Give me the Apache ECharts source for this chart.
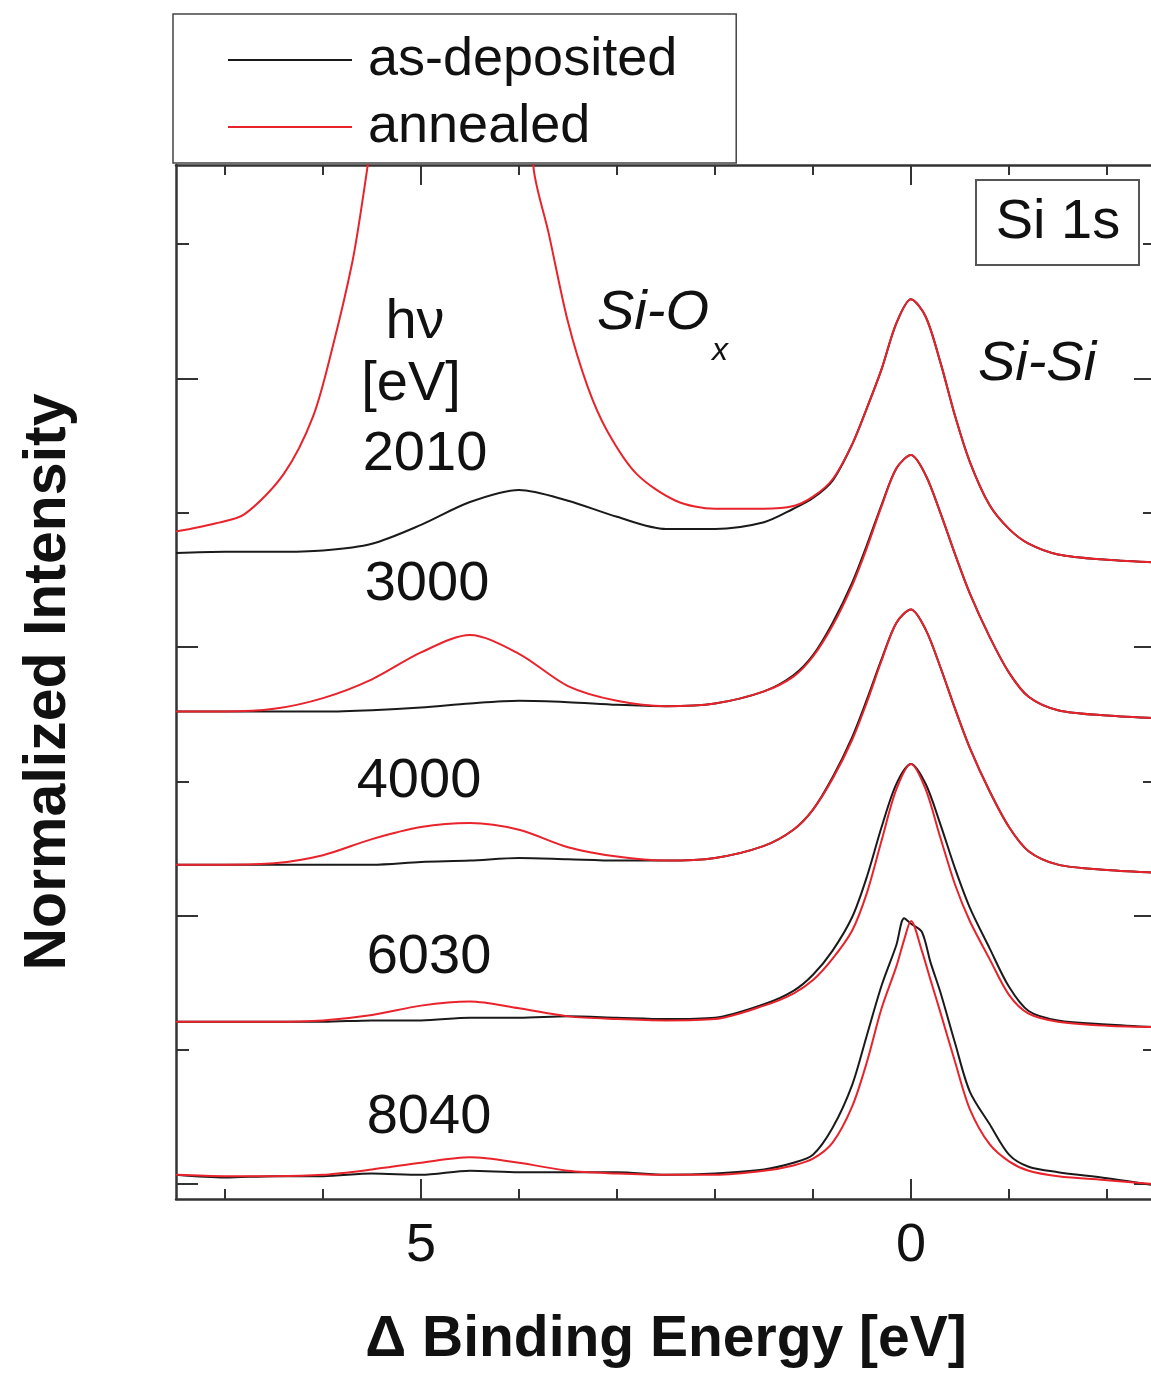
<!DOCTYPE html>
<html>
<head>
<meta charset="utf-8">
<title>Si 1s</title>
<script src="https://cdn.jsdelivr.net/npm/echarts@6/dist/echarts.min.js"></script>
<style>
  html, body { margin: 0; padding: 0; background: #fff; overflow: hidden; }
  #chart { width: 1160px; height: 1374px; }
</style>
</head>
<body>
<div id="chart"></div>
<script>
// binding energy grid (eV, relative to Si-Si)
var energy = [7.5, 7, 6.5, 6, 5.5, 5, 4.5, 4, 3.5, 3, 2.5, 2, 1.5, 1.2, 1.0, 0.8, 0.6, 0.45, 0.3, 0.15, 0,
  -0.15, -0.3, -0.45, -0.6, -0.8, -1.0, -1.2, -1.5, -2, -2.5];
var energyAnn2010 = [7.5, 7.1, 6.8, 6.4, 6.1, 5.9, 5.7, 5.6, 5.5, 5.0, 4.5, 4.0, 3.85, 3.7, 3.5, 3.3, 3.1, 2.8, 2.4, 2.0,
  1.5, 1.2, 1.0, 0.8, 0.6, 0.45, 0.3, 0.15, 0, -0.15, -0.3, -0.45, -0.6, -0.8, -1.0, -1.2, -1.5, -2, -2.5];
var energy8040 = [7.5, 7, 6.5, 6, 5.5, 5, 4.5, 4, 3.5, 3, 2.5, 2, 1.5, 1.2, 1.0, 0.8, 0.6, 0.45, 0.3, 0.15, 0.07, 0,
  -0.11, -0.2, -0.3, -0.45, -0.6, -0.8, -1.0, -1.2, -1.5, -2, -2.5];

// intensities (stacked, arbitrary units)
var dep2010 = [4.70, 4.71, 4.71, 4.72, 4.77, 4.91, 5.08, 5.17, 5.09, 4.97, 4.88, 4.88, 4.93, 5.03, 5.11, 5.24, 5.51,
  5.78, 6.07, 6.41, 6.59, 6.46, 6.12, 5.72, 5.38, 5.06, 4.88, 4.77, 4.69, 4.65, 4.63];
var ann2010 = [4.86, 4.92, 4.99, 5.29, 5.72, 6.24, 6.87, 7.31, 7.83, 11.0, 11.5, 9.0, 7.56, 7.09, 6.42, 5.94, 5.61,
  5.29, 5.09, 5.03, 5.03, 5.05, 5.12, 5.25, 5.51, 5.78, 6.07, 6.41, 6.59, 6.46, 6.12, 5.72, 5.38, 5.06, 4.88, 4.77,
  4.69, 4.65, 4.63];
var dep3000 = [3.52, 3.52, 3.52, 3.52, 3.53, 3.55, 3.58, 3.60, 3.59, 3.57, 3.56, 3.58, 3.67, 3.79, 3.94, 4.18, 4.48,
  4.76, 5.06, 5.33, 5.43, 5.28, 5.00, 4.69, 4.40, 4.08, 3.81, 3.63, 3.53, 3.49, 3.47];
var ann3000 = [3.52, 3.52, 3.54, 3.62, 3.76, 3.96, 4.09, 3.95, 3.71, 3.60, 3.56, 3.58, 3.67, 3.78, 3.93, 4.16, 4.46,
  4.74, 5.05, 5.33, 5.43, 5.28, 5.00, 4.69, 4.40, 4.08, 3.81, 3.63, 3.53, 3.49, 3.47];
var dep4000 = [2.38, 2.38, 2.38, 2.38, 2.38, 2.40, 2.41, 2.43, 2.42, 2.41, 2.41, 2.43, 2.52, 2.64, 2.79, 3.03, 3.33,
  3.61, 3.91, 4.18, 4.28, 4.13, 3.85, 3.54, 3.25, 2.93, 2.66, 2.48, 2.38, 2.34, 2.32];
var ann4000 = [2.38, 2.38, 2.39, 2.45, 2.57, 2.66, 2.69, 2.64, 2.51, 2.44, 2.41, 2.43, 2.52, 2.64, 2.79, 3.02, 3.31,
  3.59, 3.90, 4.18, 4.28, 4.13, 3.85, 3.54, 3.25, 2.93, 2.66, 2.48, 2.38, 2.34, 2.32];
var dep6030 = [1.21, 1.21, 1.21, 1.21, 1.22, 1.22, 1.24, 1.24, 1.25, 1.24, 1.23, 1.24, 1.34, 1.44, 1.56, 1.74, 1.99,
  2.29, 2.66, 2.98, 3.13, 2.98, 2.68, 2.35, 2.06, 1.76, 1.47, 1.29, 1.22, 1.19, 1.17];
var ann6030 = [1.21, 1.21, 1.21, 1.22, 1.26, 1.33, 1.36, 1.31, 1.25, 1.23, 1.22, 1.23, 1.33, 1.42, 1.52, 1.68, 1.89,
  2.17, 2.56, 2.94, 3.13, 2.94, 2.58, 2.23, 1.96, 1.68, 1.41, 1.27, 1.21, 1.18, 1.17];
var dep8040 = [0.07, 0.05, 0.06, 0.06, 0.08, 0.07, 0.10, 0.09, 0.09, 0.09, 0.07, 0.08, 0.11, 0.16, 0.22, 0.42, 0.74,
  1.11, 1.48, 1.78, 1.98, 1.94, 1.88, 1.65, 1.43, 1.05, 0.69, 0.45, 0.22, 0.13, 0.09, 0.045, -0.01];
var ann8040 = [0.07, 0.06, 0.06, 0.07, 0.11, 0.16, 0.20, 0.16, 0.10, 0.08, 0.07, 0.07, 0.10, 0.14, 0.19, 0.31, 0.58,
  0.91, 1.31, 1.62, 1.82, 1.96, 1.74, 1.52, 1.28, 0.91, 0.56, 0.30, 0.17, 0.10, 0.06, 0.03, 0.00];

// photon energies written next to each pair of spectra
var photonLabels = ['2010', '3000', '4000', '6030', '8040'];

// tick positions
var xMajor = [0, 5];
var xMinor = [-2, -1, 1, 2, 3, 4, 6, 7];
var yMajor = [0, 2, 4, 6];
var yMinor = [1, 3, 5, 7];

var FONT = '"Liberation Sans", Arial, Helvetica, sans-serif';
var AXIS = '#333';
var BLACK = '#1a1a1a';
var RED = '#e8232b';

var chart = echarts.init(document.getElementById('chart'));

function zip(xs, ys) {
  return xs.map(function (x, i) { return [x, ys[i]]; });
}

function spectrum(name, color, xs, ys) {
  return {
    type: 'line',
    name: name,
    data: zip(xs, ys),
    symbol: 'none',
    showSymbol: false,
    smooth: 0.3,
    clip: true,
    silent: true,
    lineStyle: { color: color, width: 2 },
    itemStyle: { color: color }
  };
}

// one x axis per tick length and side
function xAx(pos, ticks, len, main) {
  return {
    type: 'value', position: pos, min: -2.5, max: 7.5, inverse: true,
    axisLine: { show: main, onZero: false, lineStyle: { color: AXIS, width: 2.5 } },
    axisTick: { inside: true, length: len, customValues: ticks, lineStyle: { color: AXIS, width: 2 } },
    axisLabel: (main && pos === 'bottom')
      ? { customValues: xMajor, fontSize: 54, margin: 20, color: '#111', fontFamily: FONT }
      : { show: false },
    splitLine: { show: false },
    name: (main && pos === 'bottom') ? 'Δ Binding Energy [eV]' : '',
    nameLocation: 'middle',
    nameGap: 113,
    nameTextStyle: { fontSize: 57, fontWeight: 'bold', color: '#111', fontFamily: FONT }
  };
}

function yAx(pos, ticks, len, main) {
  return {
    type: 'value', position: pos, min: -0.11, max: 7.59,
    axisLine: { show: main, onZero: false, lineStyle: { color: AXIS, width: 2.5 } },
    axisTick: { inside: true, length: len, customValues: ticks, lineStyle: { color: AXIS, width: 2 } },
    axisLabel: { show: false },
    splitLine: { show: false },
    name: (main && pos === 'left') ? 'Normalized Intensity' : '',
    nameLocation: 'middle',
    nameGap: 98,
    nameTextStyle: { fontSize: 59, fontWeight: 'bold', color: '#111', fontFamily: FONT }
  };
}

function txt(text, x, y, size, style, align) {
  return {
    type: 'text', x: x, y: y, z: 10,
    style: {
      text: text, fill: '#111',
      font: (style || 'normal') + ' ' + size + 'px ' + FONT,
      textAlign: align || 'center', align: align || 'center',
      textVerticalAlign: 'middle', verticalAlign: 'middle'
    }
  };
}

var labelY = [455, 585, 782, 958, 1118];
var labelX = [425, 427, 419, 429, 429];
var graphics = [
  txt('hν', 415, 323, 56),
  txt('[eV]', 411, 385, 56),
  txt('Si-O', 597, 313, 56, 'italic', 'left'),
  txt('x', 720, 351, 32, 'italic'),
  txt('Si-Si', 1037, 364, 56, 'italic'),
  {
    type: 'rect', z: 9,
    shape: { x: 976, y: 180, width: 163, height: 85 },
    style: { fill: '#fff', stroke: '#555', lineWidth: 2 }
  },
  txt('Si 1s', 1058, 223, 56)
];
photonLabels.forEach(function (t, i) {
  graphics.push(txt(t, labelX[i], labelY[i], 56));
});

chart.setOption({
  animation: false,
  backgroundColor: '#fff',
  grid: { left: 176, right: 4, top: 165, bottom: 174 },
  legend: {
    left: 173, top: 14, orient: 'vertical',
    data: ['as-deposited', 'annealed'],
    icon: 'rect',
    itemWidth: 124, itemHeight: 2, itemGap: 13,
    padding: [19, 59, 9, 55],
    borderColor: '#444', borderWidth: 1.5,
    backgroundColor: '#fff',
    selectedMode: false,
    textStyle: { fontSize: 54, color: '#111', fontFamily: FONT, padding: [0, 0, 0, 11] }
  },
  xAxis: [
    xAx('bottom', xMajor, 20, true),
    xAx('bottom', xMinor, 10, false),
    xAx('top', xMajor, 20, true),
    xAx('top', xMinor, 10, false)
  ],
  yAxis: [
    yAx('left', yMajor, 22, true),
    yAx('left', yMinor, 13, false),
    yAx('right', yMajor, 22, true),
    yAx('right', yMinor, 13, false)
  ],
  graphic: graphics,
  series: [
    spectrum('as-deposited', BLACK, energy, dep2010),
    spectrum('as-deposited', BLACK, energy, dep3000),
    spectrum('as-deposited', BLACK, energy, dep4000),
    spectrum('as-deposited', BLACK, energy, dep6030),
    spectrum('as-deposited', BLACK, energy8040, dep8040),
    spectrum('annealed', RED, energyAnn2010, ann2010),
    spectrum('annealed', RED, energy, ann3000),
    spectrum('annealed', RED, energy, ann4000),
    spectrum('annealed', RED, energy, ann6030),
    spectrum('annealed', RED, energy8040, ann8040)
  ]
});
</script>
</body>
</html>
